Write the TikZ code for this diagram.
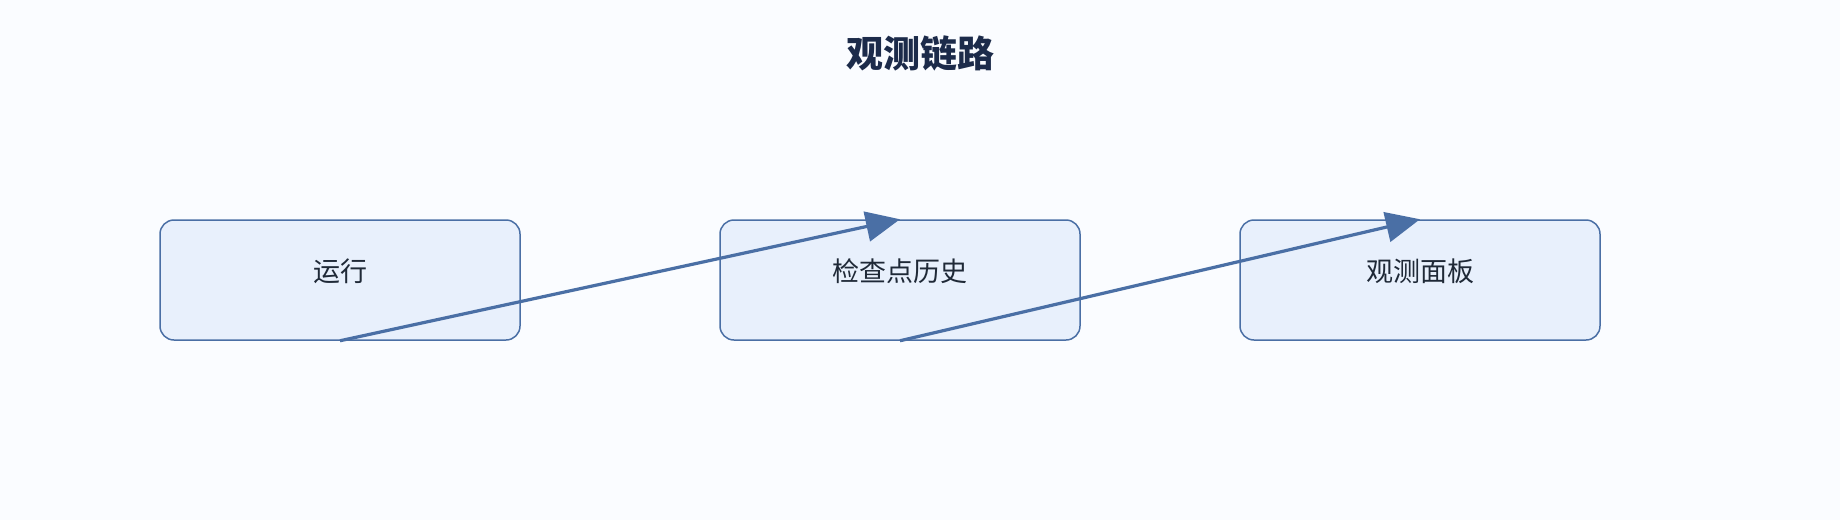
\documentclass[tikz,border=0pt]{standalone}
\usepackage{fontspec}
\setmainfont{Noto Sans CJK SC}
\usetikzlibrary{arrows.meta,positioning}
\definecolor{flowblue}{HTML}{4A6FA5}
\definecolor{boxfill}{HTML}{E8F0FC}
\definecolor{bgcolor}{HTML}{FAFCFF}
\definecolor{titlecol}{HTML}{1C2B4A}
\definecolor{textcol}{HTML}{1F2937}

\begin{document}
\begin{tikzpicture}[node distance=198.5pt, x=1pt, y=-1pt]
\tikzset{
    mybox/.style={rectangle, rounded corners=14pt, draw=flowblue, fill=boxfill, line width=1.5pt, minimum width=360pt, minimum height=120pt, text=textcol, text height=23pt, text depth=21pt, font=\fontsize{27}{30}\selectfont},
    myarrow/.style={-{Triangle[length=34pt, width=30pt]}, draw=flowblue, line width=3.2pt},
    mytitle/.style={font=\fontsize{37}{42}\selectfont\bfseries, text=titlecol}
}
\fill[bgcolor] (0,0) rectangle (1840,520);
\node[mytitle] (title) at (920,53) {观测链路};
\node[mybox] (run) at (340,280) {运行};
\node[mybox, right=of run] (history) {检查点历史};
\node[mybox, right=158.5pt of history] (panel) {观测面板};
% arrows go from the bottom of one box to the top of the next
\draw[myarrow] (run.south) -- (history.north);
\draw[myarrow] (history.south) -- (panel.north);
\end{tikzpicture}
\end{document}
